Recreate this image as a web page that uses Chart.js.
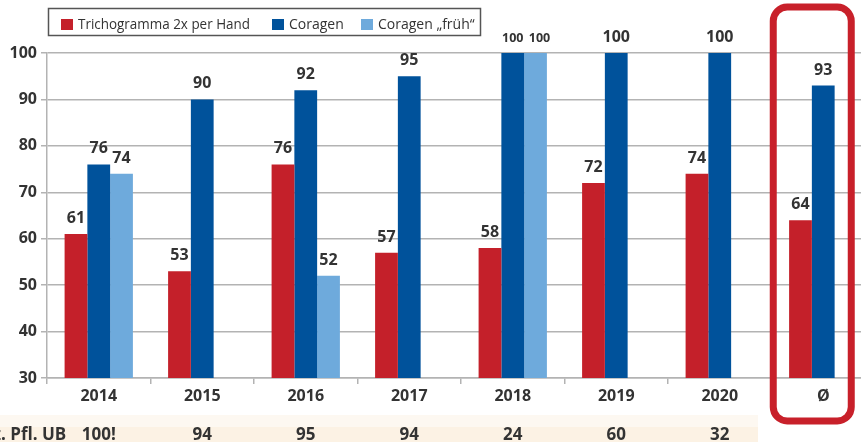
<!DOCTYPE html>
<html>
<head>
<meta charset="utf-8">
<script src="https://cdn.jsdelivr.net/npm/chart.js@4"></script>
<style>
  html, body { margin: 0; padding: 0; background: #fff; overflow: hidden; }
  #wrap { position: relative; width: 880px; height: 442px; }
</style>
</head>
<body>
<div id="wrap"><canvas id="chart" width="880" height="442"></canvas></div>
<script>
// Daten
const categories = ["2014", "2015", "2016", "2017", "2018", "2019", "2020", "Ø"];
const trichogramma = [61, 53, 76, 57, 58, 72, 74, 64];
const coragen = [76, 90, 92, 95, 100, 100, 100, 93];
const coragenFrueh = [74, null, 52, null, 100, null, null, null];
const seriesNames = ["Trichogramma 2x per Hand", "Coragen", "Coragen „früh“"];
const yMin = 30;
const yMax = 100;
const yStep = 10;
const ubLabel = "Anz. Pfl. UB";
const ubValues = ["100!", "94", "95", "94", "24", "60", "32"];

const FONT = "'Open Sans', 'DejaVu Sans', sans-serif";
const TEXT = "#333333";
const GRID = "#b3b3b3";

/* ----------------------------------------------------------------------
  Werte über den Balken
---------------------------------------------------------------------- */
const valueLabels = {
  id: "valueLabels",
  afterDatasetsDraw(chart) {
    const ctx = chart.ctx;
    const last = chart.data.datasets.length - 1;
    ctx.save();
    ctx.fillStyle = TEXT;
    ctx.textAlign = "center";
    ctx.textBaseline = "alphabetic";
    chart.data.datasets.forEach((ds, i) => {
      const meta = chart.getDatasetMeta(i);
      meta.data.forEach((bar, j) => {
        const v = ds.data[j];
        if (v == null) return;
        // wenn alle drei Balken da sind und die Zahl dreistellig ist -> kleiner
        const crowded =
          chart.data.datasets.every((d) => d.data[j] != null) && String(v).length > 2;
        const size = crowded ? 12.5 : 16;
        const dx = crowded && i === last ? 4 : 0;
        ctx.font = `bold ${size}px ${FONT}`;
        ctx.fillText(String(v), bar.x + dx, bar.y - 11);
      });
    });
    ctx.restore();
  },
};

/* ----------------------------------------------------------------------
  Legende mit Rahmen, roter Rahmen um Ø, Zeile unten
---------------------------------------------------------------------- */
const legendSquares = [61, 272, 361]; // x der Farbkästchen

const decor = {
  id: "decor",
  beforeDraw(chart) {
    const ctx = chart.ctx;
    ctx.save();
    ctx.fillStyle = "#fff";
    ctx.fillRect(0, 0, chart.width, chart.height);
    ctx.restore();
  },
  afterDraw(chart) {
    const ctx = chart.ctx;
    const x = chart.scales.x;
    ctx.save();

    // Legende
    ctx.fillStyle = "#fff";
    ctx.fillRect(48, 8, 433, 28);
    ctx.strokeStyle = "#555";
    ctx.lineWidth = 1.5;
    ctx.strokeRect(48.5, 8.5, 432, 27);
    ctx.font = `14px ${FONT}`;
    ctx.textBaseline = "middle";
    ctx.textAlign = "left";
    chart.data.datasets.forEach((ds, i) => {
      const lx = legendSquares[i];
      ctx.fillStyle = ds.backgroundColor;
      ctx.fillRect(lx, 19, 12, 11);
      ctx.fillStyle = TEXT;
      ctx.fillText(ds.label, lx + 17, 25, i === 0 ? 172 : 104);
    });

    // Zeile unten (Beschriftung links angeschnitten wie im Original)
    ctx.fillStyle = "#fdf8f1";
    ctx.fillRect(0, 415, 758, 12);
    ctx.fillStyle = "#fcf2e4";
    ctx.fillRect(0, 427, 758, 15);
    ctx.fillStyle = TEXT;
    ctx.font = `bold 17px ${FONT}`;
    ctx.textBaseline = "alphabetic";
    ctx.textAlign = "left";
    const cut = ctx.measureText(ubLabel.slice(0, ubLabel.indexOf("."))).width;
    ctx.fillText(ubLabel, 1 - cut, 440);
    ctx.textAlign = "center";
    ubValues.forEach((v, i) => {
      ctx.fillText(v, x.getPixelForValue(i), 440);
    });

    // roter Rahmen um Ø
    const cx = x.getPixelForValue(categories.length - 1);
    ctx.strokeStyle = "#c8202a";
    ctx.lineWidth = 7;
    ctx.beginPath();
    ctx.roundRect(cx - 50, 7, 78, 414, 14);
    ctx.stroke();

    ctx.restore();
  },
};

new Chart(document.getElementById("chart"), {
  type: "bar",
  data: {
    labels: categories,
    datasets: [
      { label: seriesNames[0], data: trichogramma, backgroundColor: "#c4202a" },
      { label: seriesNames[1], data: coragen, backgroundColor: "#00529b" },
      { label: seriesNames[2], data: coragenFrueh, backgroundColor: "#6eaadc" },
    ],
  },
  options: {
    responsive: false,
    animation: false,
    devicePixelRatio: 1,
    layout: { padding: { top: 53, right: 5, bottom: 0, left: 0 } },
    datasets: {
      bar: { categoryPercentage: 0.66, barPercentage: 1.0, borderWidth: 0 },
    },
    plugins: {
      legend: { display: false },
      tooltip: { enabled: false },
    },
    scales: {
      x: {
        afterFit: (s) => { s.height = 64; },
        grid: {
          offset: true,
          drawOnChartArea: false,
          tickLength: 6,
          color: GRID,
          lineWidth: 1.5,
        },
        border: { display: true, color: GRID, width: 1.5 },
        ticks: {
          color: TEXT,
          font: { family: FONT, size: 16, weight: "bold" },
          padding: 3,
        },
      },
      y: {
        min: yMin,
        max: yMax,
        afterFit: (s) => { s.width = 47; },
        grid: { color: GRID, lineWidth: 1.5, tickLength: 6 },
        border: { display: true, color: GRID, width: 1.5 },
        ticks: {
          stepSize: yStep,
          color: TEXT,
          font: { family: FONT, size: 16, weight: "bold" },
          padding: 4,
        },
      },
    },
  },
  plugins: [decor, valueLabels],
});
</script>
</body>
</html>
